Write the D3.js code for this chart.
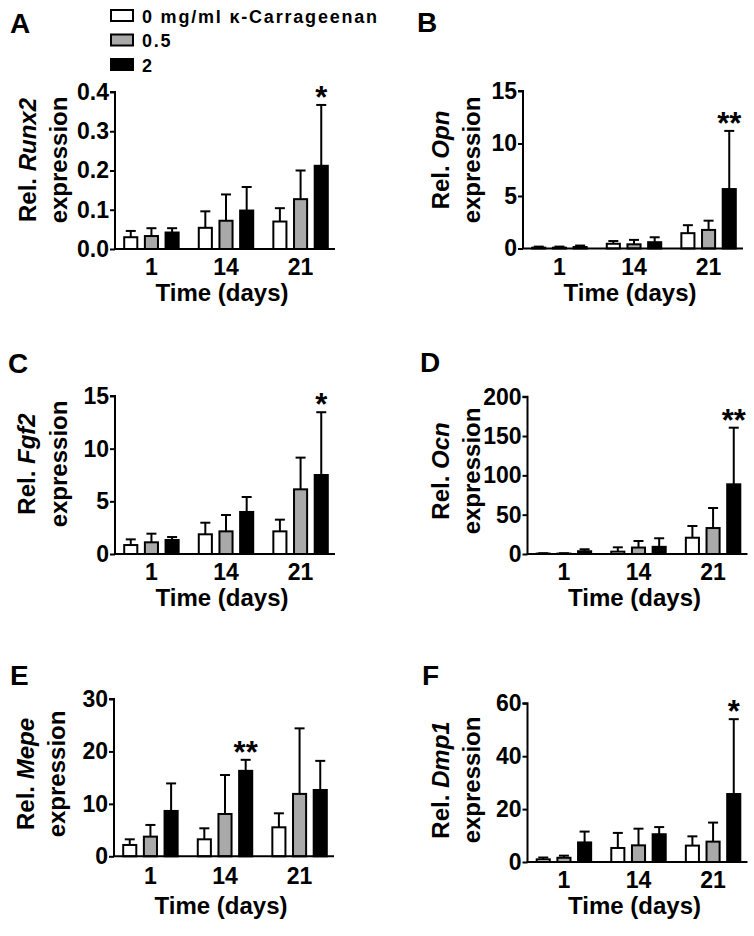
<!DOCTYPE html>
<html><head><meta charset="utf-8">
<script src="https://cdn.jsdelivr.net/npm/d3@7"></script>
<style>
body{margin:0;background:#fff}
text{font-family:"Liberation Sans",Arial,Helvetica,sans-serif;font-weight:bold;fill:#000}
</style>
</head><body>
<svg id="c" width="754" height="936"></svg>
<script>
// ---------- data ----------
const days = ["1", "14", "21"];
const groups = ["0 mg/ml κ-Carrageenan", "0.5", "2"];
const groupFill = ["#ffffff", "#a9a9a9", "#000000"];

// values: [day][group]
const runx2Mean = [[0.030, 0.033, 0.042], [0.054, 0.072, 0.098], [0.070, 0.127, 0.212]];
const runx2Err  = [[0.016, 0.020, 0.011], [0.042, 0.067, 0.060], [0.034, 0.073, 0.155]];
const runx2Ticks = [0, 0.1, 0.2, 0.3, 0.4];

const opnMean = [[0.08, 0.08, 0.14], [0.45, 0.40, 0.60], [1.46, 1.77, 5.66]];
const opnErr  = [[0.10, 0.10, 0.14], [0.26, 0.42, 0.47], [0.76, 0.88, 5.54]];
const opnTicks = [0, 5, 10, 15];

const fgf2Mean = [[0.85, 1.11, 1.33], [1.87, 2.15, 3.99], [2.15, 6.14, 7.50]];
const fgf2Err  = [[0.54, 0.82, 0.28], [1.10, 1.55, 1.42], [1.11, 3.01, 5.96]];
const fgf2Ticks = [0, 5, 10, 15];

const ocnMean = [[0.5, 0.5, 3.5], [3.0, 8.2, 9.1], [20.7, 33.0, 88.6]];
const ocnErr  = [[0.5, 0.5, 2.5], [5.5, 8.3, 10.9], [14.9, 25.5, 72.0]];
const ocnTicks = [0, 50, 100, 150, 200];

const mepeMean = [[2.16, 3.75, 8.65], [3.24, 8.07, 16.3], [5.53, 11.9, 12.65]];
const mepeErr  = [[1.08, 2.23, 5.25], [2.10, 7.43, 2.10], [2.67, 12.5, 5.55]];
const mepeTicks = [0, 10, 20, 30];

const dmp1Mean = [[1.0, 1.6, 7.4], [5.3, 6.3, 10.5], [6.2, 7.7, 25.7]];
const dmp1Err  = [[0.7, 0.8, 4.1], [5.7, 6.3, 2.7], [3.5, 7.2, 28.3]];
const dmp1Ticks = [0, 20, 40, 60];

// significance marks: [dayIndex, groupIndex, label]
const runx2Sig = [2, 2, "*"];
const opnSig = [2, 2, "**"];
const fgf2Sig = [2, 2, "*"];
const ocnSig = [2, 2, "**"];
const mepeSig = [1, 2, "**"];
const dmp1Sig = [2, 2, "*"];

// ---------- layout ----------
const panels = [
  {letter:"A", gene:"Runx2", mean:runx2Mean, err:runx2Err, ticks:runx2Ticks, fmt:".1f", sig:runx2Sig,
   ax:115, y0:249, yt:92, lx:10, ly:33, t1:36, t2:67, tc:160, xt:26, xl:52},
  {letter:"B", gene:"Opn", mean:opnMean, err:opnErr, ticks:opnTicks, fmt:"d", sig:opnSig,
   ax:523, y0:248.5, yt:91, lx:417, ly:32, t1:449, t2:480, tc:160, xt:26, xl:52},
  {letter:"C", gene:"Fgf2", mean:fgf2Mean, err:fgf2Err, ticks:fgf2Ticks, fmt:"d", sig:fgf2Sig,
   ax:115, y0:554, yt:396, lx:8, ly:373, t1:35, t2:67, tc:464, xt:26, xl:52},
  {letter:"D", gene:"Ocn", mean:ocnMean, err:ocnErr, ticks:ocnTicks, fmt:"d", sig:ocnSig,
   ax:527.5, y0:554, yt:396.7, lx:420, ly:372, t1:449, t2:480, tc:471, xt:26, xl:52},
  {letter:"E", gene:"Mepe", mean:mepeMean, err:mepeErr, ticks:mepeTicks, fmt:"d", sig:mepeSig,
   ax:114, y0:856.3, yt:699, lx:10, ly:685, t1:34, t2:65, tc:774, xt:28, xl:58},
  {letter:"F", gene:"Dmp1", mean:dmp1Mean, err:dmp1Err, ticks:dmp1Ticks, fmt:"d", sig:dmp1Sig,
   ax:527.5, y0:862, yt:703.3, lx:422, ly:685, t1:449, t2:480, tc:780, xt:26, xl:52}
];

const svg = d3.select("#c");

panels.forEach(p => {
  const g = svg.append("g");
  const y = d3.scaleLinear().domain([0, p.ticks[p.ticks.length - 1]]).range([p.y0, p.yt]);
  const x0 = d3.scaleBand().domain(days).range([p.ax, p.ax + 222]).paddingInner(0.243).paddingOuter(0.11);
  const x1 = d3.scaleBand().domain(d3.range(groups.length)).range([0, x0.bandwidth()]).paddingInner(0.27);

  // bars
  days.forEach((d, di) => {
    groups.forEach((gr, gi) => {
      const m = p.mean[di][gi], e = p.err[di][gi];
      const bx = x0(d) + x1(gi), bw = x1.bandwidth();
      const cx = bx + bw / 2;
      // error bar (upper)
      g.append("line").attr("x1", cx).attr("x2", cx).attr("y1", y(m)).attr("y2", y(m + e))
        .attr("stroke", "#000").attr("stroke-width", 2);
      g.append("line").attr("x1", cx - 5).attr("x2", cx + 5).attr("y1", y(m + e)).attr("y2", y(m + e))
        .attr("stroke", "#000").attr("stroke-width", 2);
      g.append("rect").attr("x", bx + 1).attr("width", bw - 2)
        .attr("y", y(m)).attr("height", Math.max(0, y(0) - y(m)))
        .attr("fill", groupFill[gi]).attr("stroke", "#000").attr("stroke-width", 2);
    });
  });

  // significance
  const [sd, sg, sl] = p.sig;
  const sx = x0(days[sd]) + x1(sg) + x1.bandwidth() / 2;
  g.append("text").attr("x", sx).attr("y", y(p.mean[sd][sg] + p.err[sd][sg]) + 3)
    .attr("text-anchor", "middle").style("font-size", "31px").text(sl);

  // y axis
  const yAxis = d3.axisLeft(y).tickValues(p.ticks).tickSize(5).tickPadding(1)
    .tickFormat(p.fmt === "d" ? d3.format("d") : d3.format(".1f"));
  const ya = g.append("g").attr("transform", `translate(${p.ax},0)`).call(yAxis);
  ya.select(".domain").attr("stroke", "#000").attr("stroke-width", 2).attr("d", `M-5,${p.yt}H0V${p.y0}`);
  ya.selectAll(".tick line").attr("stroke", "#000").attr("stroke-width", 2);
  ya.selectAll(".tick text").style("font-size", "23px").style("font-family", '"Liberation Sans",Arial,sans-serif')
    .style("font-weight", "bold").attr("fill", "#000");

  // x axis line
  g.append("line").attr("x1", p.ax - 1).attr("x2", p.ax + 220).attr("y1", p.y0).attr("y2", p.y0)
    .attr("stroke", "#000").attr("stroke-width", 2);
  // x tick labels
  days.forEach(d => {
    g.append("text").attr("x", x0(d) + x0.bandwidth() / 2).attr("y", p.y0 + p.xt)
      .attr("text-anchor", "middle").style("font-size", "23px").text(d);
  });
  g.append("text").attr("x", p.ax + 107).attr("y", p.y0 + p.xl).attr("text-anchor", "middle")
    .style("font-size", "24px").text("Time (days)");

  // y title
  const t1 = g.append("text").attr("transform", `translate(${p.t1},${p.tc}) rotate(-90)`)
    .attr("text-anchor", "middle").style("font-size", "24px");
  t1.append("tspan").text("Rel. ");
  t1.append("tspan").style("font-style", "italic").text(p.gene);
  g.append("text").attr("transform", `translate(${p.t2},${p.tc}) rotate(-90)`)
    .attr("text-anchor", "middle").style("font-size", "24px").text("expression");

  // panel letter
  g.append("text").attr("x", p.lx).attr("y", p.ly).style("font-size", "28px").text(p.letter);
});

// legend
const leg = svg.append("g");
groups.forEach((gr, gi) => {
  const yy = 10 + gi * 24.5;
  leg.append("rect").attr("x", 111).attr("y", yy).attr("width", 22).attr("height", 11)
    .attr("fill", groupFill[gi]).attr("stroke", "#000").attr("stroke-width", 2);
  leg.append("text").attr("x", 142).attr("y", yy + 12.5).style("font-size", "18px")
    .style("letter-spacing", "1.8px").text(gr);
});
</script>
</body></html>
